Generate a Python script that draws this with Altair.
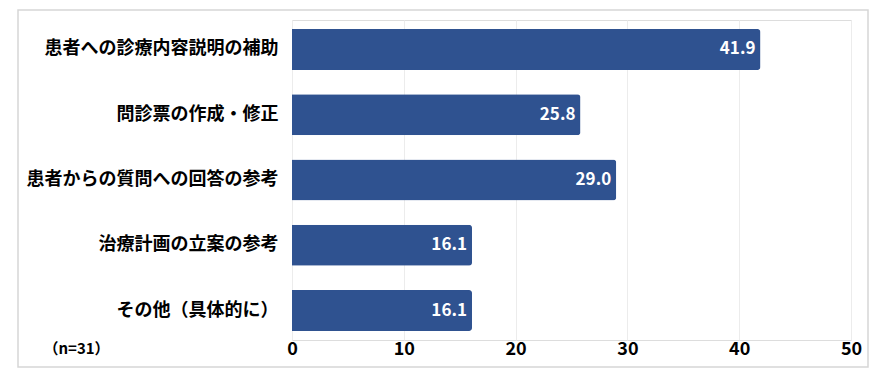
import altair as alt
import pandas as pd

categories = [
    "患者への診療内容説明の補助",
    "問診票の作成・修正",
    "患者からの質問への回答の参考",
    "治療計画の立案の参考",
    "その他（具体的に）",
]
values = [41.9, 25.8, 29.0, 16.1, 16.1]
x_ticks = [0, 10, 20, 30, 40, 50]
note = "（n=31）"

df = pd.DataFrame({"category": categories, "value": values})
df["label"] = df["value"].map(lambda v: f"{v:.1f}")

FONT = "Noto Sans CJK JP"
BAR = "#2F5290"

y_enc = alt.Y(
    "category:N",
    sort=categories,
    scale=alt.Scale(paddingInner=0.372, paddingOuter=0.138),
    axis=alt.Axis(
        title=note,
        titleAngle=0,
        titleX=-216,
        titleY=328,
        titleAlign="center",
        titleBaseline="middle",
        titleFont=FONT,
        titleFontSize=15,
        titleFontWeight="bold",
        titleColor="#000000",
        labelFont=FONT,
        labelFontSize=18,
        labelFontWeight="bold",
        labelColor="#000000",
        labelPadding=14,
        labelLimit=0,
        domain=False,
        ticks=False,
        grid=False,
    ),
)

x_enc = alt.X(
    "value:Q",
    scale=alt.Scale(domain=[0, 50], nice=False),
    axis=alt.Axis(
        values=x_ticks,
        title=None,
        labelFont=FONT,
        labelFontSize=18,
        labelFontWeight="bold",
        labelColor="#000000",
        labelPadding=0,
        labelFlush=False,
        domain=False,
        ticks=False,
        grid=True,
        gridColor="#ececec",
        gridWidth=1,
    ),
)

frame = alt.Chart(pd.DataFrame({"f": [0]})).mark_rect(
    filled=False, stroke="#d6d6d6", strokeWidth=1.5
).encode(
    x=alt.value(-274), x2=alt.value(576), y=alt.value(-10), y2=alt.value(347)
)

bars = alt.Chart(df).mark_bar(color=BAR, cornerRadiusEnd=3).encode(
    y=y_enc, x=x_enc
)

labels = alt.Chart(df).mark_text(
    align="right", baseline="middle", dx=-5, color="white",
    font=FONT, fontSize=17, fontWeight="bold"
).encode(
    y=alt.Y("category:N", sort=categories),
    x=alt.X("value:Q"),
    text="label:N",
)

chart = alt.layer(frame, bars, labels).properties(
    width=559,
    height=320,
    autosize=alt.AutoSizeParams(type="none"),
    padding={"left": 284, "top": 12, "right": 31, "bottom": 31},
).configure_view(stroke=None).configure(background="white")

chart.save("out.html", embed_options={"renderer": "svg", "actions": False})
